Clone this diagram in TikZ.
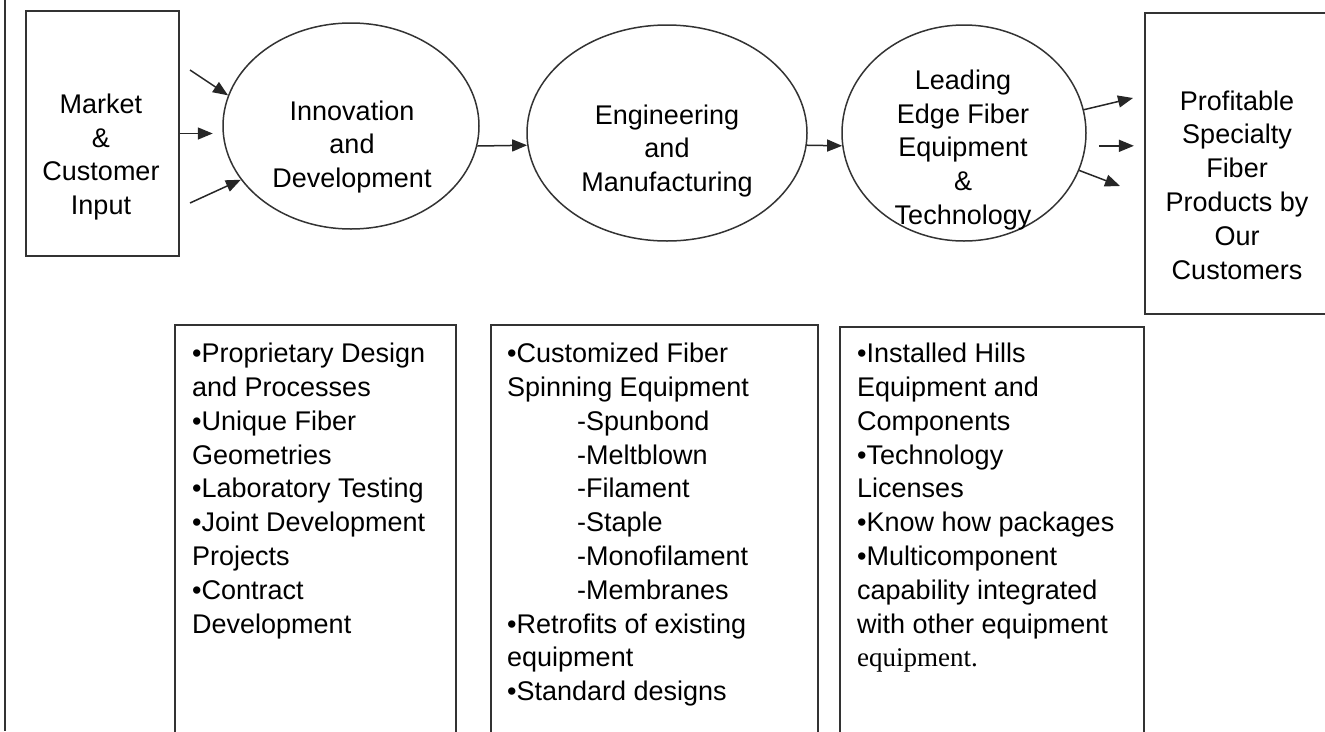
\documentclass[tikz,border=0pt]{standalone}
\usepackage{fontspec}
\setmainfont{Liberation Sans}
\newfontfamily\serifnote{Liberation Serif}
\usetikzlibrary{shapes.geometric,arrows.meta}
\newcommand{\dashitem}[1]{\hspace*{70pt}-#1}

\begin{document}
\begin{tikzpicture}[x=1pt, y=-1pt,
        every node/.style={font=\fontsize{27}{33.8}\selectfont, inner sep=0pt},
        outline/.style={draw=black!80, line width=1.5pt},
        stage/.style={outline, ellipse},
        sidebox/.style={outline, rectangle},
        lbl/.style={align=center},
        listtext/.style={align=left, anchor=north west},
        flow/.style={-{Triangle[length=15pt,width=12pt]}, line width=1.5pt, black!85}]
        \useasboundingbox (0,0) rectangle (1325,731);
        \draw[outline] (5,0) -- (5,731);

        % top row
        \node[sidebox, minimum width=153pt, minimum height=245pt] (market) at (102.5,133.5) {};
        \node[stage, minimum width=256pt, minimum height=206pt] (inno) at (351,126) {};
        \node[stage, minimum width=280pt, minimum height=216pt] (eng) at (667,133) {};
        \node[stage, minimum width=244pt, minimum height=216pt] (edge) at (964,133) {};
        \node[sidebox, minimum width=200pt, minimum height=301pt] (profit) at (1245,163.5) {};

        \node[lbl] (marketlbl) at (101,157) {Market\\\&\\Customer\\Input};
        \node[lbl] (innolbl) at (352,147) {Innovation\\and\\Development};
        \node[lbl] (englbl) at (667,151) {Engineering\\and\\Manufacturing};
        \node[lbl] (edgelbl) at (963,150) {Leading\\Edge Fiber\\Equipment\\\&\\Technology};
        \node[lbl] (profitlbl) at (1237,185) {Profitable\\Specialty\\Fiber\\Products by\\Our\\Customers};

        % arrows
        \coordinate (in1) at (190,70);
        \coordinate (in3) at (190,203);
        \coordinate (out1) at (1133,98);
        \coordinate (out3) at (1120,186);
        \draw[flow] (in1) -- (inno.166);
        \draw[flow] (market.east) -- ++(33,0);
        \draw[flow] (in3) -- (inno.206);
        \draw[flow] (inno.-9) -- (eng.185);
        \draw[flow] (eng.-5) -- (edge.186);
        \draw[flow] (edge.11) -- (out1);
        \draw[flow] ([xshift=13pt]edge.-6) -- ++(35,0);
        \draw[flow] (edge.-18) -- (out3);

        % bottom row
        \node[sidebox, minimum width=281pt, minimum height=420pt] (idbox) at (315.5,535) {};
        \node[sidebox, minimum width=327pt, minimum height=420pt] (embox) at (654.5,535) {};
        \node[sidebox, minimum width=304pt, minimum height=418pt] (tlbox) at (992,536) {};

        \node[listtext] (idlist) at (192,343) {%
            •Proprietary Design\\and Processes\\•Unique Fiber\\Geometries\\%
            •Laboratory Testing\\•Joint Development\\Projects\\•Contract\\Development};
        \node[listtext] (emlist) at (507,343) {%
            •Customized Fiber\\Spinning Equipment\\\dashitem{Spunbond}\\\dashitem{Meltblown}\\%
            \dashitem{Filament}\\\dashitem{Staple}\\\dashitem{Monofilament}\\\dashitem{Membranes}\\%
            •Retrofits of existing\\equipment\\•Standard designs};
        \node[listtext] (tllist) at (857,343) {%
            •Installed Hills\\Equipment and\\Components\\•Technology\\Licenses\\%
            •Know how packages\\•Multicomponent\\capability integrated\\with other equipment\\%
            {\serifnote equipment.}};
\end{tikzpicture}
\end{document}
